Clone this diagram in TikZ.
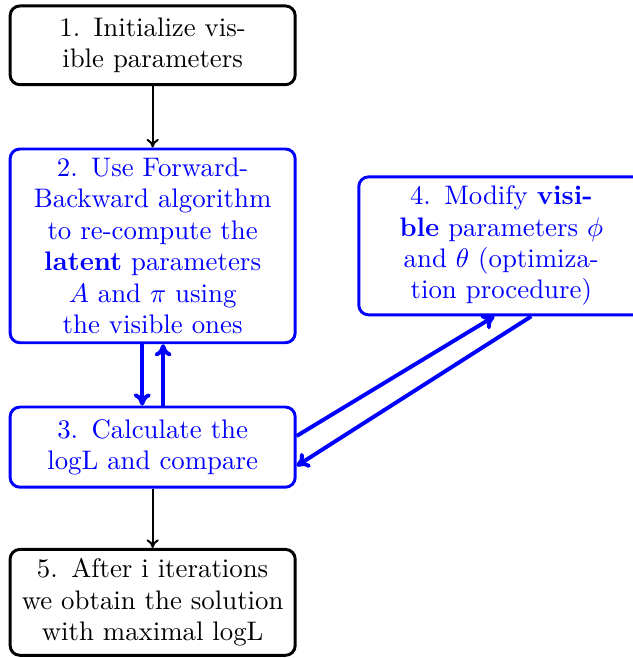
\documentclass[tikz,border=0pt]{standalone}
\usepackage{tikz}
\usetikzlibrary{arrows,arrows.meta,positioning,calc}

\begin{document}
\begin{tikzpicture}[
            node distance=0.88cm and 0.87cm,
            box/.style={
                    rectangle,
                    rounded corners,
                    draw=black,
                    very thick,
                    minimum width=4.09cm,
                    text width=3.85cm,
                    inner ysep=2.5pt,
                    align=center,
                    font=\fontsize{10.95}{12.8}\selectfont
                },
            bluebox/.style={
                    box,
                    draw=blue,
                    text=blue
                },
            arrow/.style={
                    -{To[length=3.5pt,width=5pt]},
                    thick
                },
            bluearrow/.style={
                    -{To[length=5pt,width=7pt]},
                    draw=blue,
                    ultra thick
                }
        ]
        \useasboundingbox (0,0) rectangle (9.07,-9.44);

        % Start
        \node[box, minimum height=1.13cm] at (2.19,-0.65) (init) {1. Initialize vis-\\ible parameters};

        % Forward-Backward
        \node[bluebox, below=of init, minimum height=2.78cm] (forward) {2. Use Forward-\\Backward algorithm\\to re-compute the\\\textbf{latent} parameters\\$A$ and $\pi$ using\\the visible ones};

        % Optimization
        \node[bluebox, right=of forward, minimum height=1.98cm] (modify) {4. Modify \textbf{visi-}\\\textbf{ble} parameters $\phi$\\and $\theta$ (optimiza-\\tion procedure)};

        % logL
        \node[bluebox, below=of forward, minimum height=1.15cm] (compare) {3. Calculate the\\logL and compare};

        % Result
        \node[box, below=0.85cm of compare, minimum height=1.52cm] (result) {5. After i iterations\\we obtain the solution\\with maximal logL};

        % Relations
        \draw[arrow] (init) -- (forward);
        \draw[arrow] (compare) -- (result);

        \draw[bluearrow] ([xshift=-0.15cm]forward.south) -- ([xshift=-0.15cm]compare.north);
        \draw[bluearrow] ([xshift=0.15cm]compare.north) -- ([xshift=0.15cm]forward.south);

        \draw[bluearrow] ([yshift=0.16cm]compare.east) -- ([xshift=-0.1cm]modify.south);
        \draw[bluearrow] ([xshift=0.43cm]modify.south) -- ([yshift=-0.27cm]compare.east);

    \end{tikzpicture}
\end{document}
